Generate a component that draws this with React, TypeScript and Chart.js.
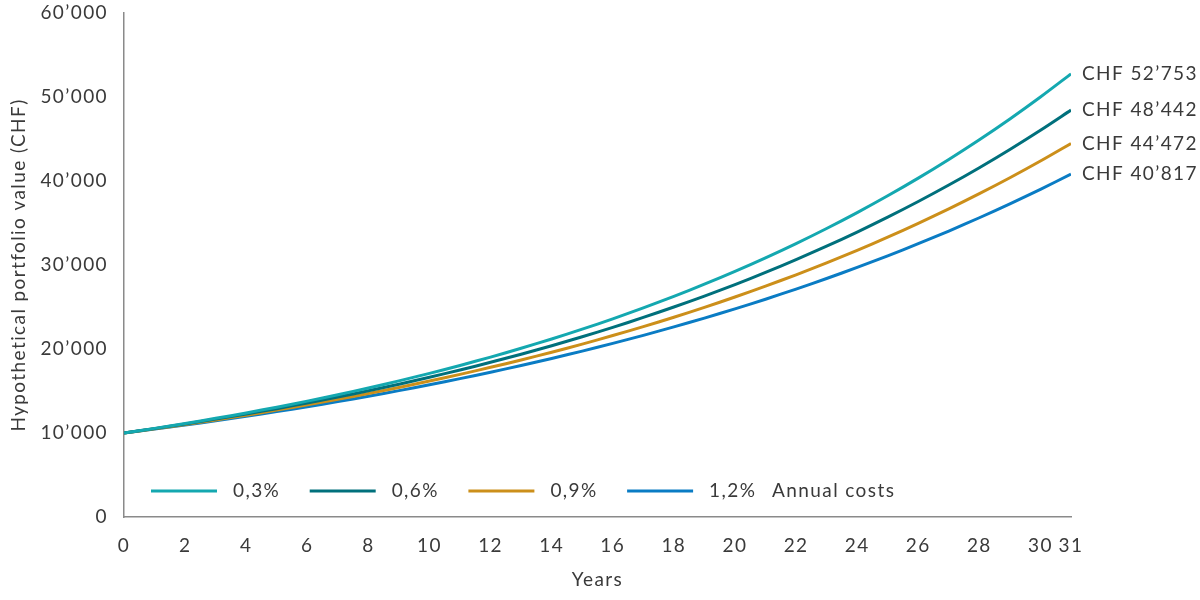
import React, { useEffect, useRef } from "react";
import { Chart, registerables } from "chart.js";

Chart.register(...registerables);

const years: number[] = Array.from({ length: 32 }, (_, i) => i);
const xTickValues: number[] = [0, 2, 4, 6, 8, 10, 12, 14, 16, 18, 20, 22, 24, 26, 28, 30, 31];
const yTickValues: number[] = [0, 10000, 20000, 30000, 40000, 50000, 60000];

const seriesNames: string[] = ["0,3%", "0,6%", "0,9%", "1,2%"];
const legendSuffix = "Annual costs";
const endLabels: string[] = ["CHF 52’753", "CHF 48’442", "CHF 44’472", "CHF 40’817"];

const cost03: number[] = [
  10000, 10551, 11133, 11746, 12393, 13077, 13797, 14558, 15360, 16207, 17100, 18042, 19037, 20086, 21193, 22361,
  23593, 24893, 26265, 27713, 29240, 30852, 32552, 34346, 36239, 38236, 40343, 42567, 44913, 47388, 49999, 52753,
];
const cost06: number[] = [
  10000, 10522, 11072, 11650, 12258, 12898, 13571, 14280, 15026, 15810, 16636, 17504, 18418, 19380, 20392, 21457,
  22577, 23756, 24997, 26302, 27675, 29120, 30641, 32241, 33924, 35695, 37559, 39520, 41584, 43755, 46040, 48442,
];
const cost09: number[] = [
  10000, 10493, 11011, 11554, 12123, 12721, 13349, 14007, 14698, 15422, 16183, 16981, 17818, 18697, 19619, 20586,
  21602, 22667, 23785, 24957, 26188, 27480, 28835, 30257, 31749, 33314, 34957, 36681, 38490, 40388, 42380, 44472,
];
const cost12: number[] = [
  10000, 10464, 10950, 11458, 11990, 12547, 13129, 13738, 14376, 15043, 15741, 16472, 17237, 18037, 18874, 19750,
  20667, 21626, 22630, 23680, 24779, 25929, 27133, 28393, 29711, 31090, 32534, 34044, 35625, 37278, 39008, 40817,
];

const colors: string[] = ["#14A8B0", "#00707C", "#CC8F1A", "#0A7CC4"];
const FONT = "Lato, 'Open Sans', sans-serif";
const TEXT = "#3a3a3a";

const fmt = (v: number) => (v === 0 ? "0" : `${Math.round(v / 1000)}’000`);

const spacingPlugin = {
  id: "spacing",
  beforeDraw(chart: any) {
    chart.ctx.letterSpacing = "1.4px";
  },
};

const overlayPlugin = {
  id: "overlay",
  afterDatasetsDraw(chart: any) {
    const { ctx, chartArea, scales } = chart;
    const xs = scales.x;
    const ys = scales.y;
    ctx.save();
    ctx.font = `19px ${FONT}`;
    ctx.fillStyle = TEXT;
    ctx.textBaseline = "middle";
    ctx.textAlign = "left";
    chart.data.datasets.forEach((ds: any, i: number) => {
      const last = ds.data.length - 1;
      const px = xs.getPixelForValue(years[last]) + 11;
      const py = ys.getPixelForValue(ds.data[last]);
      ctx.fillText(endLabels[i], px, py);
    });
    const ly = chartArea.bottom - 26;
    const step = 158.7;
    const x0 = chartArea.left + 27;
    seriesNames.forEach((name, i) => {
      const sx = x0 + i * step;
      ctx.strokeStyle = colors[i];
      ctx.lineWidth = 3;
      ctx.lineCap = "butt";
      ctx.beginPath();
      ctx.moveTo(sx, ly);
      ctx.lineTo(sx + 66, ly);
      ctx.stroke();
      ctx.fillText(name, sx + 82, ly);
    });
    ctx.fillText(legendSuffix, x0 + 3 * step + 145, ly);
    ctx.restore();
  },
};

export default function App() {
  const ref = useRef<HTMLCanvasElement | null>(null);
  useEffect(() => {
    document.body.style.margin = "0";
    if (!ref.current) return;
    const all = [cost03, cost06, cost09, cost12];
    const chart = new Chart(ref.current, {
      type: "line",
      data: {
        labels: years,
        datasets: all.map((d, i) => ({
          label: seriesNames[i],
          data: d,
          borderColor: colors[i],
          backgroundColor: colors[i],
          borderWidth: 3,
          pointRadius: 0,
          tension: 0.3,
          fill: false,
        })),
      },
      options: {
        animation: false,
        responsive: false,
        devicePixelRatio: 1,
        layout: { padding: { left: 0, right: 129, top: 13, bottom: 0 } },
        plugins: {
          legend: { display: false },
          tooltip: { enabled: false },
        },
        scales: {
          x: {
            type: "linear",
            min: 0,
            max: 31,
            afterBuildTicks: (s: any) => {
              s.ticks = xTickValues.map((v) => ({ value: v }));
            },
            afterFit: (s: any) => {
              s.height = 83;
              s.paddingLeft = 0;
              s.paddingRight = 0;
            },
            grid: { display: false, drawTicks: false },
            border: { display: true, color: "#8a8a8a", width: 1.5 },
            ticks: {
              padding: 17,
              maxRotation: 0,
              autoSkip: false,
              color: TEXT,
              font: { family: FONT, size: 19 },
              callback: (v: any) => String(v),
            },
            title: {
              display: true,
              text: "Years",
              color: TEXT,
              font: { family: FONT, size: 19 },
              padding: { top: 9, bottom: 9 },
            },
          },
          y: {
            min: 0,
            max: 60000,
            afterBuildTicks: (s: any) => {
              s.ticks = yTickValues.map((v) => ({ value: v }));
            },
            afterFit: (s: any) => {
              s.width = 124;
              s.paddingTop = 0;
              s.paddingBottom = 0;
            },
            grid: { display: false, drawTicks: false },
            border: { display: true, color: "#8a8a8a", width: 1.5 },
            ticks: {
              padding: 16,
              color: TEXT,
              font: { family: FONT, size: 19 },
              callback: (v: any) => fmt(Number(v)),
            },
            title: {
              display: true,
              text: "Hypothetical portfolio value (CHF)",
              color: TEXT,
              font: { family: FONT, size: 19 },
              padding: { top: 7, bottom: 7 },
            },
          },
        },
      },
      plugins: [spacingPlugin, overlayPlugin],
    });
    return () => chart.destroy();
  }, []);
  return <canvas ref={ref} width={1200} height={600} style={{ display: "block" }} />;
}
